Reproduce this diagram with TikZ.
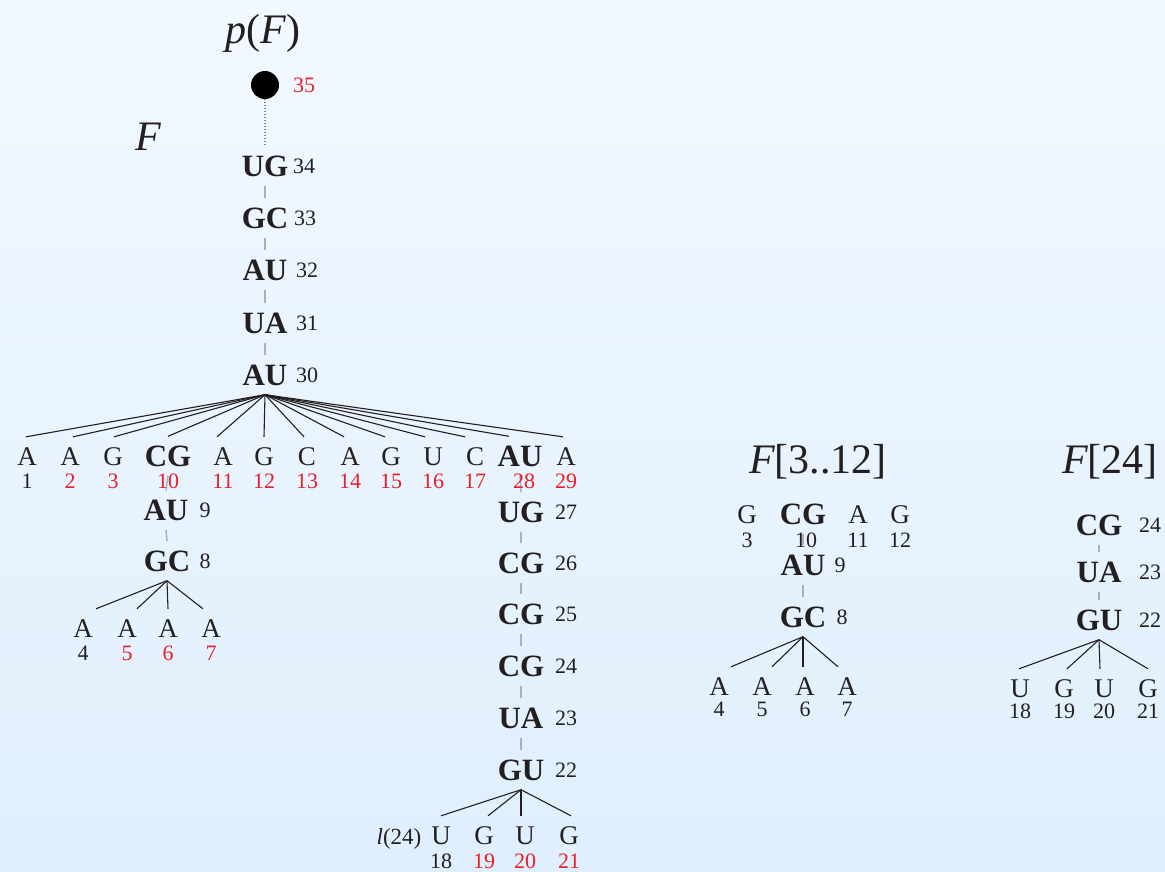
\documentclass[tikz,border=0pt]{standalone}
\usepackage{fontspec}
\setmainfont{Liberation Serif}
\definecolor{ink}{HTML}{231F20}
\definecolor{rnared}{HTML}{E8202A}
\definecolor{linkgray}{HTML}{A9B0B8}
\definecolor{bgtop}{HTML}{F2F8FF}
\definecolor{bgbot}{HTML}{DFEFFD}
\pgfdeclarelayer{bg}
\pgfdeclarelayer{edges}
\pgfsetlayers{bg,edges,main}
\tikzset{
  pairnode/.style={font=\fontsize{31}{31}\selectfont\bfseries, text=ink, inner xsep=1pt, inner ysep=9pt, text height=21pt, text depth=0pt},
  basenode/.style={font=\fontsize{27}{27}\selectfont, text=ink, inner xsep=1pt, inner ysep=10pt, text height=18pt, text depth=0pt},
  idx/.style={font=\fontsize{22}{22}\selectfont, text=ink, inner sep=0pt, text height=15pt, text depth=0pt},
  hot/.style={text=rnared},
  plain/.style={},
  titlenode/.style={font=\fontsize{42}{42}\selectfont, text=ink, inner sep=0pt, anchor=base},
  fan/.style={draw=ink, line width=1.1pt},
  pairlink/.style={draw=linkgray, line width=1.4pt},
  rootlink/.style={draw=gray, line width=1.2pt, dash pattern=on 1pt off 2pt},
}
\newcommand{\rnaleaf}[7]{% name, x, y, letter, number, number y, style
  \node[basenode] (#1) at (#2,#3) {#4};
  \node[idx,#7] (#1n) at (#2,#6) {#5};}
\newcommand{\rnapair}[7]{% name, x, y, pair, number, number x, style
  \node[pairnode] (#1) at (#2,#3) {#4};
  \node[idx,#7] (#1n) at (#6,#3) {#5};}
\begin{document}
\begin{tikzpicture}[x=1pt,y=-1pt]
\useasboundingbox (0,0) rectangle (1165,871);
\begin{pgfonlayer}{bg}
  \shade[top color=bgtop, bottom color=bgbot] (0,0) rectangle (1165,871);
\end{pgfonlayer}

% ---------- main tree F ----------
\node[titlenode] (pF) at (263,43) {{\itshape p}({\itshape F})};
\node[titlenode] (Ftitle) at (148,150) {\itshape F};
\node[circle, fill=black, minimum size=28pt, inner sep=0pt] (root) at (265,85) {};
\node[idx,hot] (rootn) at (304,85) {35};

\rnapair{p34}{265}{166}{UG}{34}{304}{plain}
\rnapair{p33}{265}{218}{GC}{33}{305}{plain}
\rnapair{p32}{265}{270}{AU}{32}{307}{plain}
\rnapair{p31}{265}{323}{UA}{31}{307}{plain}
\rnapair{p30}{265}{375}{AU}{30}{307}{plain}

\rnaleaf{b1}{27}{456}{A}{1}{481}{plain}
\rnaleaf{b2}{70}{456}{A}{2}{481}{hot}
\rnaleaf{b3}{113}{456}{G}{3}{481}{hot}
\node[pairnode] (cg10) at (168,456) {CG};
\node[idx,hot] (cg10n) at (168,481) {10};
\rnaleaf{b11}{223}{456}{A}{11}{481}{hot}
\rnaleaf{b12}{264}{456}{G}{12}{481}{hot}
\rnaleaf{b13}{307}{456}{C}{13}{481}{hot}
\rnaleaf{b14}{350}{456}{A}{14}{481}{hot}
\rnaleaf{b15}{391}{456}{G}{15}{481}{hot}
\rnaleaf{b16}{433}{456}{U}{16}{481}{hot}
\rnaleaf{b17}{475}{456}{C}{17}{481}{hot}
\node[pairnode] (au28) at (520,456) {AU};
\node[idx,hot] (au28n) at (524,481) {28};
\rnaleaf{b29}{566}{456}{A}{29}{481}{hot}

% left subtree
\rnapair{au9}{166}{510}{AU}{9}{205}{plain}
\rnapair{gc8}{167}{561}{GC}{8}{205}{plain}
\rnaleaf{l4}{83}{628}{A}{4}{653}{plain}
\rnaleaf{l5}{127}{628}{A}{5}{653}{hot}
\rnaleaf{l6}{168}{628}{A}{6}{653}{hot}
\rnaleaf{l7}{211}{628}{A}{7}{653}{hot}

% right subtree
\rnapair{ug27}{521}{512}{UG}{27}{566}{plain}
\rnapair{cg26}{521}{563}{CG}{26}{566}{plain}
\rnapair{cg25}{521}{614}{CG}{25}{566}{plain}
\rnapair{cg24}{521}{666}{CG}{24}{566}{plain}
\rnapair{ua23}{521}{718}{UA}{23}{566}{plain}
\rnapair{gu22}{521}{770}{GU}{22}{566}{plain}
\rnaleaf{r18}{441}{835}{U}{18}{861}{plain}
\rnaleaf{r19}{484}{835}{G}{19}{861}{hot}
\rnaleaf{r20}{525}{835}{U}{20}{861}{hot}
\rnaleaf{r21}{569}{835}{G}{21}{861}{hot}
\node[font=\fontsize{23}{23}\selectfont, text=ink, inner sep=0pt, anchor=base] (l24) at (399,844) {{\itshape l}(24)};

% ---------- F[3..12] ----------
\node[titlenode] (Fsub) at (818,473) {{\itshape F}[3..12]};
\rnaleaf{s3}{747}{514}{G}{3}{540}{plain}
\node[pairnode] (scg10) at (803,514) {CG};
\node[idx] (scg10n) at (806,540) {10};
\rnaleaf{s11}{858}{514}{A}{11}{540}{plain}
\rnaleaf{s12}{900}{514}{G}{12}{540}{plain}
\rnapair{sau9}{803}{565}{AU}{9}{840}{plain}
\rnapair{sgc8}{803}{617}{GC}{8}{842}{plain}
\rnaleaf{s4}{719}{686}{A}{4}{709}{plain}
\rnaleaf{s5}{762}{686}{A}{5}{709}{plain}
\rnaleaf{s6}{805}{686}{A}{6}{709}{plain}
\rnaleaf{s7}{847}{686}{A}{7}{709}{plain}

% ---------- F[24] ----------
\node[titlenode] (Fleaf) at (1110,473) {{\itshape F}[24]};
\rnapair{tcg24}{1099}{525}{CG}{24}{1150}{plain}
\rnapair{tua23}{1099}{572}{UA}{23}{1150}{plain}
\rnapair{tgu22}{1099}{620}{GU}{22}{1150}{plain}
\rnaleaf{t18}{1020}{688}{U}{18}{711}{plain}
\rnaleaf{t19}{1064}{688}{G}{19}{711}{plain}
\rnaleaf{t20}{1104}{688}{U}{20}{711}{plain}
\rnaleaf{t21}{1148}{688}{G}{21}{711}{plain}

% ---------- connectors ----------
\begin{pgfonlayer}{edges}
  \draw[rootlink] (root) -- (p34.north);
  \draw[pairlink] (p34.south) -- (p33.north);
  \draw[pairlink] (p33.south) -- (p32.north);
  \draw[pairlink] (p32.south) -- (p31.north);
  \draw[pairlink] (p31.south) -- (p30.north);
  \foreach \c/\dx in {b1/-1,b2/3,b3/1,cg10/0,b11/-6,b12/0,b13/-3,b14/-6,b15/-6,b16/-8,b17/-10,au28/-11,b29/-3}
    \draw[fan] (p30.south) -- ([xshift=\dx pt]\c.north);
  \draw[pairlink] (cg10.south) -- (au9.north);
  \draw[pairlink] (au9.south) -- (gc8.north);
  \foreach \c/\dx in {l4/13,l5/10,l6/0,l7/-8}
    \draw[fan] (gc8.south) -- ([xshift=\dx pt]\c.north);
  \draw[pairlink] (au28.south) -- (ug27.north);
  \draw[pairlink] (ug27.south) -- (cg26.north);
  \draw[pairlink] (cg26.south) -- (cg25.north);
  \draw[pairlink] (cg25.south) -- (cg24.north);
  \draw[pairlink] (cg24.south) -- (ua23.north);
  \draw[pairlink] (ua23.south) -- (gu22.north);
  \foreach \c/\dx in {r18/0,r19/4,r20/-4,r21/2}
    \draw[fan] (gu22.south) -- ([xshift=\dx pt]\c.north);
  \draw[pairlink] (scg10.south) -- (sau9.north);
  \draw[pairlink] (sau9.south) -- (sgc8.north);
  \foreach \c/\dx in {s4/12,s5/10,s6/-2,s7/-9}
    \draw[fan] (sgc8.south) -- ([xshift=\dx pt]\c.north);
  \draw[pairlink] (tcg24.south) -- (tua23.north);
  \draw[pairlink] (tua23.south) -- (tgu22.north);
  \foreach \c/\dx in {t18/-1,t19/3,t20/-4,t21/0}
    \draw[fan] (tgu22.south) -- ([xshift=\dx pt]\c.north);
\end{pgfonlayer}
\end{tikzpicture}
\end{document}
